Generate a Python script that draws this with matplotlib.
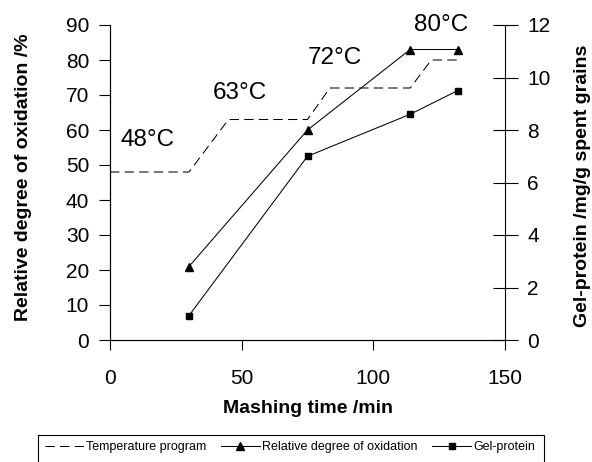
import matplotlib
matplotlib.use("Agg")
import matplotlib.pyplot as plt
from matplotlib.patches import Rectangle

plt.rcParams['font.family'] = ['Liberation Sans', 'DejaVu Sans']

# Data
temp_time = [0, 30, 45, 75, 83.5, 114, 122, 132]
temp_vals = [48, 48, 63, 63, 72, 72, 80, 80]

ox_time = [30, 75, 114, 132]
ox_vals = [21, 60, 83, 83]

gel_time = [30, 75, 114, 132]
gel_vals = [0.93, 7.0, 8.6, 9.5]

temp_labels = ["48°C", "63°C", "72°C", "80°C"]
temp_label_pos = [(3.8, 57), (39, 70.6), (75, 80.6), (115.5, 90)]

xticks = [0, 50, 100, 150]
yticks_left = list(range(0, 91, 10))
yticks_right = list(range(0, 13, 2))

W, H = 592, 462
fig = plt.figure(figsize=(W / 100, H / 100), dpi=100)
ax = fig.add_axes([110 / W, 1 - 340 / H, 395 / W, 315 / H])
ax2 = ax.twinx()

lw = 0.75
l1, = ax.plot(temp_time, temp_vals, color='black', lw=lw, linestyle=(0, (9, 5)),
              label='Temperature program')
l2, = ax.plot(ox_time, ox_vals, color='black', lw=lw, marker='^', markersize=5.5,
              label='Relative degree of oxidation')
l3, = ax2.plot(gel_time, gel_vals, color='black', lw=lw, marker='s', markersize=4.3,
               label='Gel-protein')

for txt, (x, y) in zip(temp_labels, temp_label_pos):
    ax.text(x, y, txt, fontsize=17.5, ha='left', va='center')

ax.set_xlim(0, 150)
ax.set_ylim(0, 90)
ax2.set_ylim(0, 12)
ax.set_xticks(xticks)
ax.set_yticks(yticks_left)
ax2.set_yticks(yticks_right)

for a in (ax, ax2):
    a.spines['top'].set_visible(False)
    for s in a.spines.values():
        s.set_linewidth(0.8)
ax.spines['right'].set_visible(False)

ax.tick_params(axis='y', direction='out', length=8, width=0.8, labelsize=15, pad=7)
ax.tick_params(axis='x', direction='out', length=7, width=0.8, labelsize=15, pad=14)
ax2.tick_params(axis='y', direction='inout', length=18, width=0.8, labelsize=15, pad=7)

ax.set_xlabel('Mashing time /min', fontsize=14, fontweight='bold', va='center')
ax.xaxis.set_label_coords(0.501, -0.2175)
ax.set_ylabel('Relative degree of oxidation /%', fontsize=14, fontweight='bold', va='center')
ax.yaxis.set_label_coords(-0.220, 0.516)
ax2.set_ylabel('Gel-protein /mg/g spent grains', fontsize=14, fontweight='bold',
               va='center', rotation=90)
ax2.yaxis.set_label_coords(1.197, 0.49)

# Legend
rect = Rectangle((38 / W, 1 - 480 / H), (544 - 38) / W, 45 / H, transform=fig.transFigure,
                 fill=False, edgecolor='black', lw=0.8, clip_on=False)
fig.patches.append(rect)
fig.legend(handles=[l1, l2, l3], loc='center left', bbox_to_anchor=(45 / W, 1 - 447 / H),
           ncol=3, frameon=False, fontsize=9, handlelength=3.1, handletextpad=0.16,
           columnspacing=1.2, borderpad=0, borderaxespad=0)

fig.savefig('out.png', dpi=100)
